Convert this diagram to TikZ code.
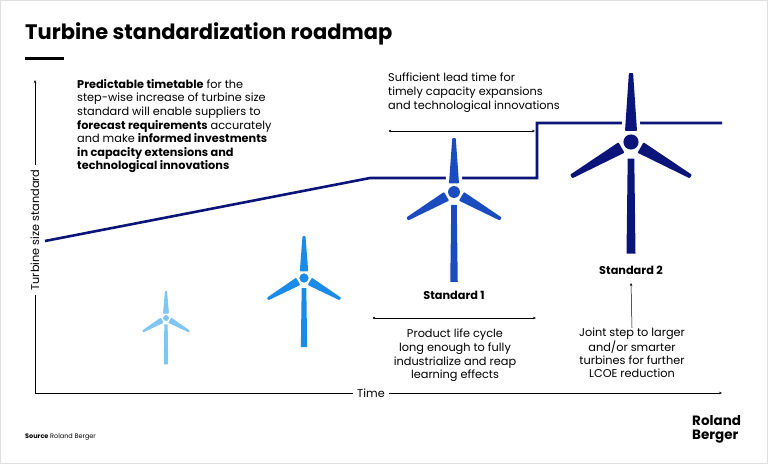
\documentclass[tikz,border=0pt]{standalone}
\usepackage{fontspec}
\setmainfont{Poppins}
\usetikzlibrary{arrows.meta}
\definecolor{navy}{HTML}{0B1478}
\definecolor{std1}{HTML}{1A4CC0}
\definecolor{tb2}{HTML}{1A8BE8}
\definecolor{tb1}{HTML}{80C6F2}
\tikzset{
  txt/.style={font=\fontsize{11.3}{13.6}\selectfont, inner sep=0pt},
  axis/.style={line width=0.6pt, draw=black},
  span/.style={line width=0.5pt, {Circle[length=2.2pt]}-{Stealth[length=3pt,width=2.5pt]}},
  trend/.style={line width=2.6pt, draw=navy},
  pics/turbine/.style n args={4}{code={
    \begin{scope}[yscale=-1]
    \foreach \a in {0,120,240}{
      \fill[#1, draw=white, line width=7pt, rotate=\a, rounded corners=0.8pt]
        (-#3,0.16*#2) -- (-0.35*#3,#2) -- (0.35*#3,#2) -- (#3,0.16*#2) -- cycle;
    }
    \foreach \a in {0,120,240}{
      \fill[#1, rotate=\a, rounded corners=0.8pt]
        (-#3,0.16*#2) -- (-0.35*#3,#2) -- (0.35*#3,#2) -- (#3,0.16*#2) -- cycle;
    }
    \fill[#1] (0,0) circle (0.11*#2);
    \fill[#1] (-0.55*#3,-0.24*#2) -- (0.55*#3,-0.24*#2) -- (0.75*#3,-0.24*#2-#4) -- (-0.75*#3,-0.24*#2-#4) -- cycle;
    \end{scope}
  }}
}
\begin{document}
\begin{tikzpicture}[x=1pt,y=-1pt]
\useasboundingbox (0,0) rectangle (768,464);
\draw[gray!25, line width=1pt] (0.5,0.5) rectangle (767.5,463.5);
% title
\node[anchor=west, inner sep=0pt, font=\fontsize{21}{24}\selectfont\bfseries] (title) at (25,34) {Turbine standardization roadmap};
\fill (25,56.5) rectangle (64,59.5);
% trend line
\coordinate (t0) at (45,241);
\coordinate (t1) at (370,178);
\coordinate (t2) at (537,178);
\coordinate (t3) at (537,123);
\coordinate (t4) at (722,123);
\draw[trend, line join=miter] (t0) -- (t1) -- (t2) -- (t3) -- (t4);
% turbines
\pic at (166,318) {turbine={tb1}{27}{3}{40}};
\pic at (304,278) {turbine={tb2}{42}{4.2}{59}};
\pic at (454,192) {turbine={std1}{54}{5}{77}};
\pic at (631,142) {turbine={navy}{69}{6}{95}};
% axes
\coordinate (o) at (35,393);
\coordinate (ytop) at (35,80);
\coordinate (xend) at (722,393);
\draw[axis, -{Stealth[length=3pt,width=2.5pt]}] (o) -- (ytop);
\draw[axis, -{Stealth[length=3pt,width=2.5pt]}] (o) -- (xend);
\node[txt, rotate=90, fill=white, inner xsep=4pt, inner ysep=1pt] (ylab) at (35,230) {Turbine size standard};
\node[txt, fill=white, inner xsep=4pt] (xlab) at (371,393) {Time};
% left text
\node[txt, anchor=north west, align=left] (lefttxt) at (77,79)
 {\textbf{Predictable timetable} for the\\
  step-wise increase of turbine size\\
  standard will enable suppliers to\\
  \textbf{forecast requirements} accurately\\
  and make \textbf{informed investments}\\
  \textbf{in capacity extensions and}\\
  \textbf{technological innovations}};
% lead time
\node[txt, anchor=north west, align=left] (lead) at (388,73)
 {Sufficient lead time for\\ timely capacity expansions\\ and technological innovations};
\coordinate (la) at (389,131);
\coordinate (lb) at (535,131);
\draw[span] (la) -- (lb);
% standards
\node[txt, font=\fontsize{11.3}{13}\selectfont\bfseries] (s1) at (454,295) {Standard 1};
\node[txt, font=\fontsize{11.3}{13}\selectfont\bfseries] (s2) at (631,270) {Standard 2};
\coordinate (pa) at (373,318);
\coordinate (pb) at (536,318);
\draw[span] (pa) -- (pb);
\node[txt, anchor=north, align=center] (plc) at (455,329)
 {Product life cycle\\ long enough to fully\\ industrialize and reap\\ learning effects};
\node[txt, anchor=north, align=center, font=\fontsize{11.3}{12.8}\selectfont] (joint) at (632,328)
 {Joint step to larger\\ and/or smarter\\ turbines for further\\ LCOE reduction};
\draw[line width=0.5pt, -{Stealth[length=3pt,width=2.5pt]}] (joint.north) -- (s2.south |- 0,283);
% footer
\node[anchor=west, inner sep=0pt, font=\fontsize{6.5}{8}\selectfont] (src) at (25,437) {\textbf{Source} Roland Berger};
\node[anchor=north west, inner sep=0pt, align=left, font=\fontsize{13.5}{14}\selectfont\bfseries] (logo) at (692,415) {Roland\\Berger};
\end{tikzpicture}
\end{document}
